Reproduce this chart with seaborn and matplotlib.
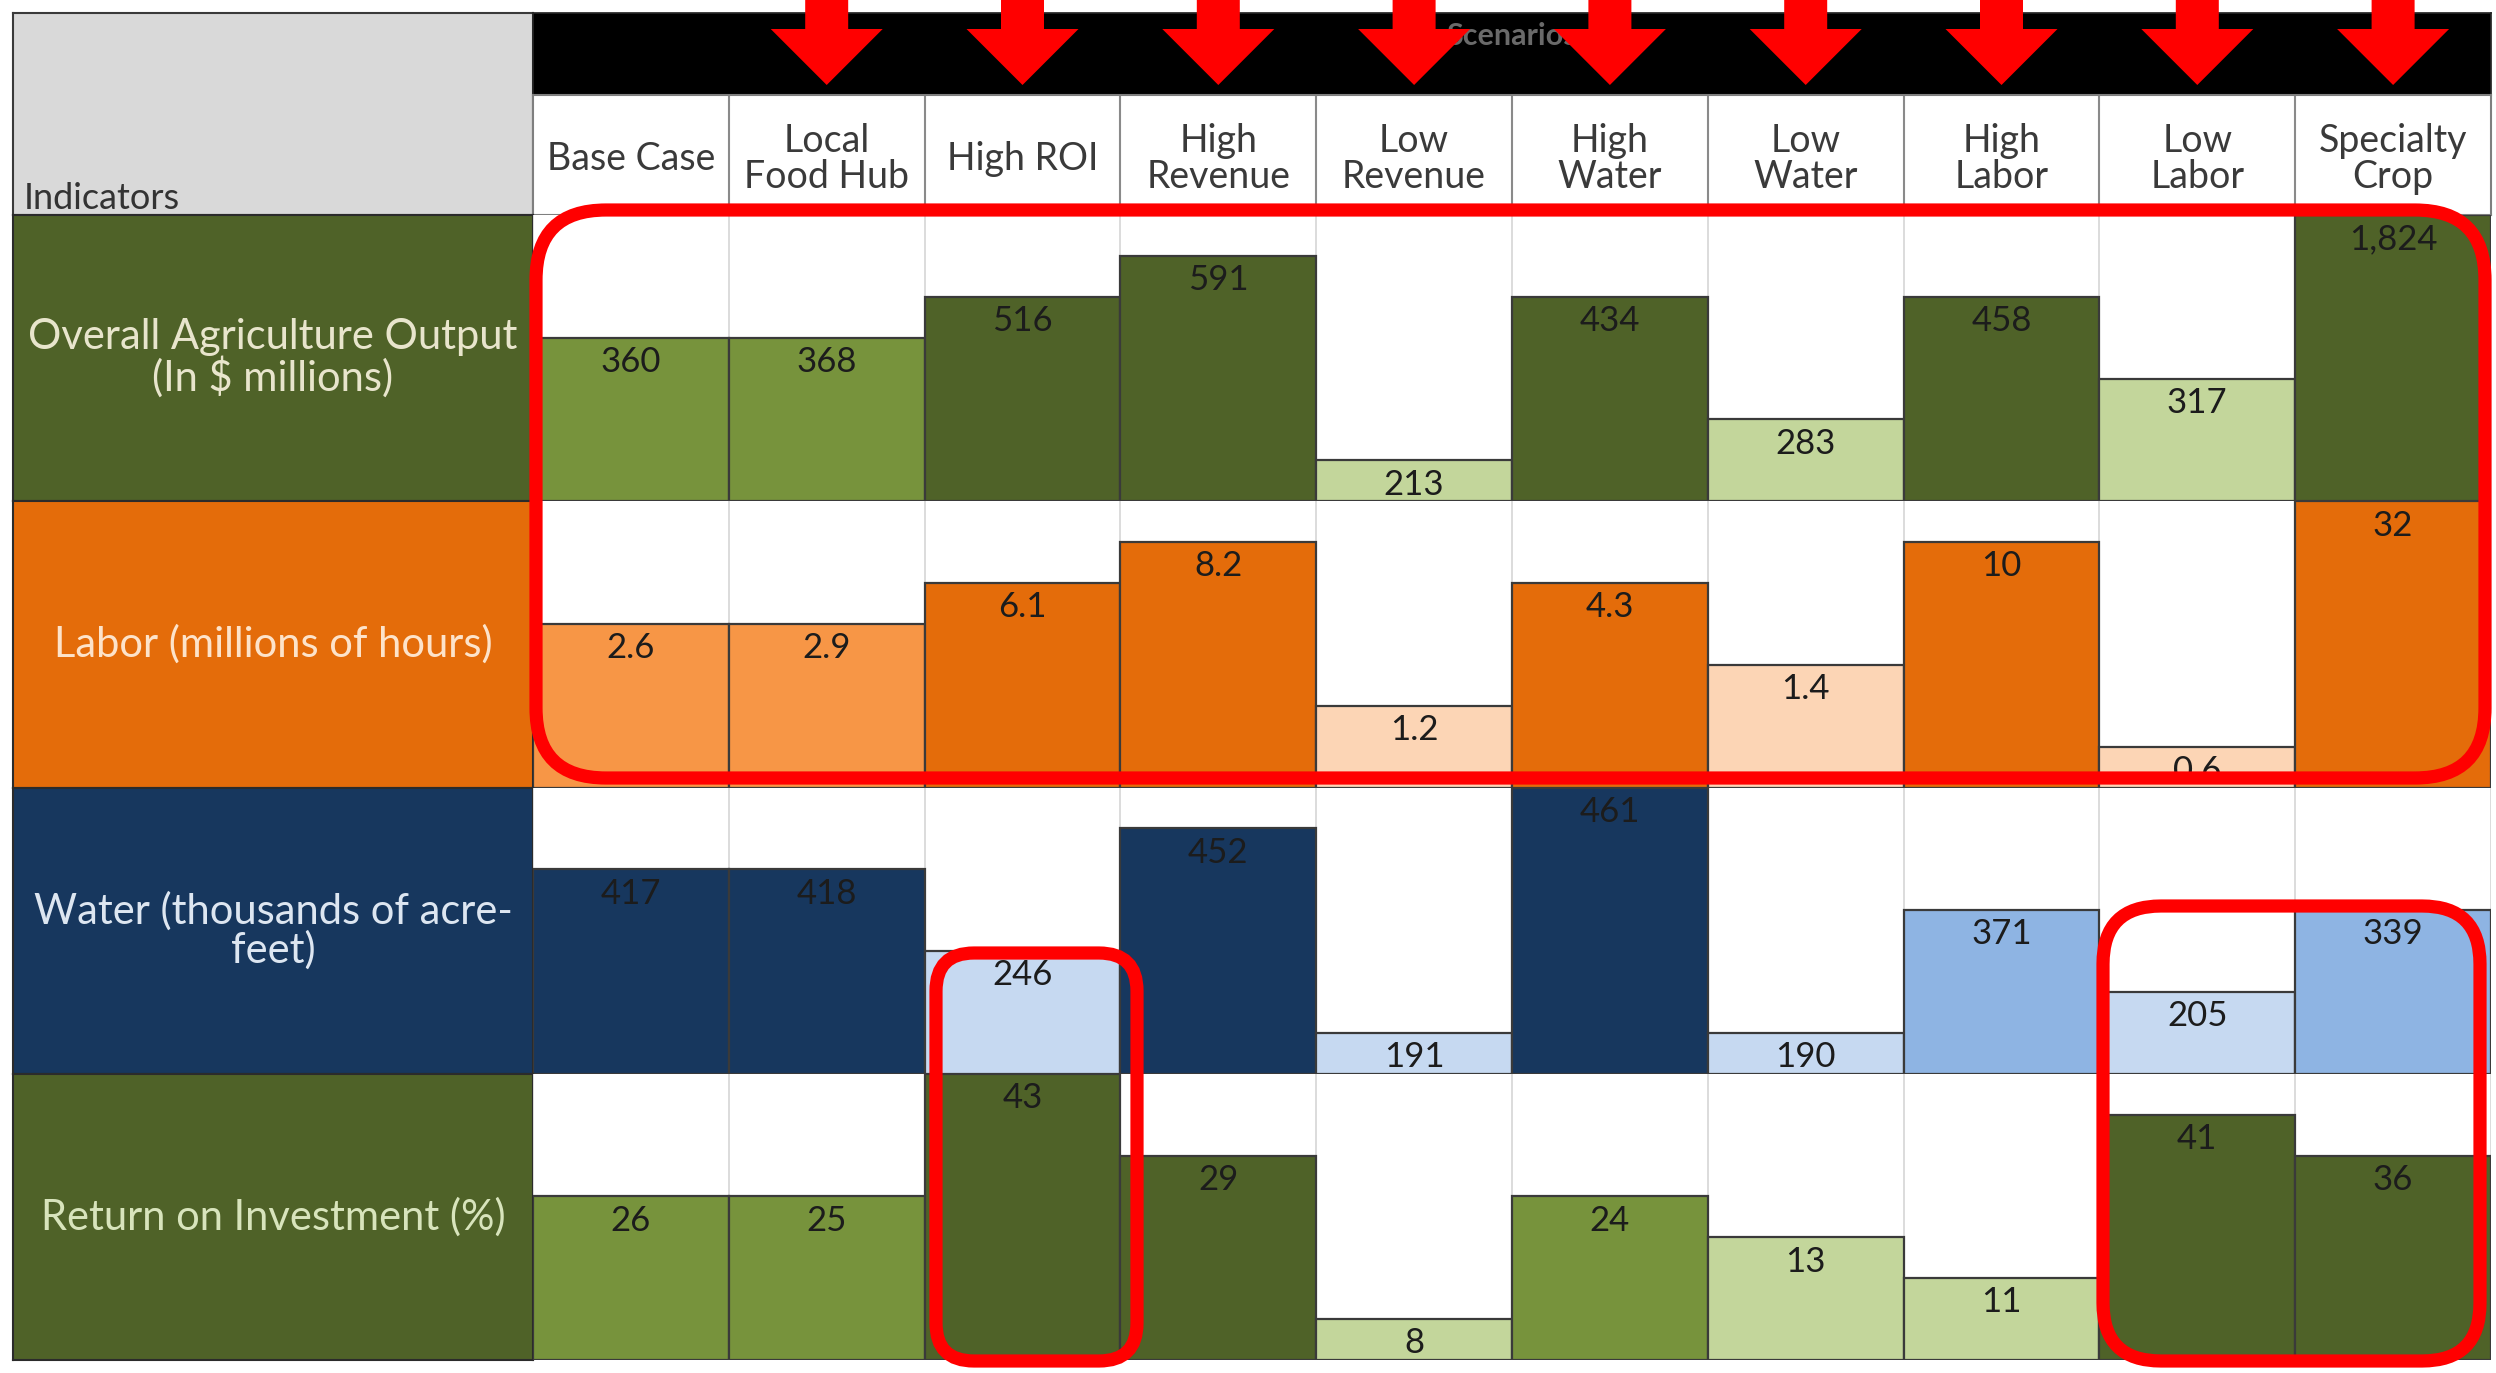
import numpy as np
import pandas as pd
import matplotlib.pyplot as plt
import seaborn as sns
from matplotlib.patches import FancyBboxPatch, FancyArrow

# scenario columns and indicator rows
scenarios = ["Base Case", "Local\nFood Hub", "High ROI", "High\nRevenue", "Low\nRevenue",
             "High\nWater", "Low\nWater", "High\nLabor", "Low\nLabor", "Specialty\nCrop"]
indicators = [r"Overall Agriculture Output" + "\n" + r"(In \$ millions)",
              "Labor (millions of hours)",
              "Water (thousands of acre-\nfeet)",
              "Return on Investment (%)"]

# printed values, bar level (rank step 1-7) and shade (d=dark, m=mid, l=light)
output_labels = ["360", "368", "516", "591", "213", "434", "283", "458", "317", "1,824"]
output_levels = [4, 4, 5, 6, 1, 5, 2, 5, 3, 7]
output_shade = ["m", "m", "d", "d", "l", "d", "l", "d", "l", "d"]

labor_labels = ["2.6", "2.9", "6.1", "8.2", "1.2", "4.3", "1.4", "10", "0.6", "32"]
labor_levels = [4, 4, 5, 6, 2, 5, 3, 6, 1, 7]
labor_shade = ["m", "m", "d", "d", "l", "d", "l", "d", "l", "d"]

water_labels = ["417", "418", "246", "452", "191", "461", "190", "371", "205", "339"]
water_levels = [5, 5, 3, 6, 1, 7, 1, 4, 2, 4]
water_shade = ["d", "d", "l", "d", "l", "d", "l", "m", "l", "m"]

roi_labels = ["26", "25", "43", "29", "8", "24", "13", "11", "41", "36"]
roi_levels = [4, 4, 7, 5, 1, 4, 3, 2, 6, 5]
roi_shade = ["m", "m", "d", "d", "l", "m", "l", "l", "d", "d"]

highlighted = [1, 2, 3, 4, 5, 6, 7, 8, 9]  # columns with red arrows

greens = {"d": "#4F6228", "m": "#77933C", "l": "#C3D69B"}
oranges = {"d": "#E46C0A", "m": "#F79646", "l": "#FCD5B5"}
blues = {"d": "#17375E", "m": "#8EB4E3", "l": "#C6D9F1"}

W, H = 2496, 1373
sns.set_theme(style="white")
plt.rcParams["font.family"] = ["Lato", "DejaVu Sans"]

fig = plt.figure(figsize=(W / 100, H / 100), dpi=100)


def px_axes(x0, y0, x1, y1, **kw):
    return fig.add_axes([x0 / W, 1 - y1 / H, (x1 - x0) / W, (y1 - y0) / H], **kw)


left_x0, grid_x0, grid_x1 = 13, 533, 2491
band_y0, head_y0, grid_y0, grid_y1 = 13, 95, 215, 1360
row_h = (grid_y1 - grid_y0) / 4
col_w = (grid_x1 - grid_x0) / len(scenarios)

# header: gray indicators box
gax = px_axes(left_x0, band_y0, grid_x0, grid_y0)
gax.set_facecolor("#D9D9D9")
gax.set_xticks([]); gax.set_yticks([])
for s in gax.spines.values():
    s.set_color("#3a3a3a"); s.set_linewidth(1.5)
gax.text(0.02, 0.0, "Indicators", ha="left", va="bottom", fontsize=26, color="#333333",
         transform=gax.transAxes)

# black scenarios band
bax = px_axes(grid_x0, band_y0, grid_x1, head_y0)
bax.set_facecolor("black")
bax.set_xticks([]); bax.set_yticks([])
bax.text(0.5, 0.72, "Scenarios", ha="center", va="center", fontsize=22, fontweight="bold",
         color="#6a6a6a", transform=bax.transAxes)

# scenario names row
hax = px_axes(grid_x0, head_y0, grid_x1, grid_y0)
hax.set_xlim(-0.5, len(scenarios) - 0.5); hax.set_ylim(0, 1)
hax.set_xticks([]); hax.set_yticks([])
for s in hax.spines.values():
    s.set_color("#7f7f7f"); s.set_linewidth(1.5)
hax.vlines(np.arange(0.5, len(scenarios) - 0.5), 0, 1, color="#8a8a8a", lw=1.5)
for i, name in enumerate(scenarios):
    hax.text(i, 0.47, name, ha="center", va="center", fontsize=27, color="#3a3a3a", linespacing=1.0)

rows = [
    (indicators[0], output_labels, output_levels, output_shade, greens, "#4F6228", "#E8E5CC"),
    (indicators[1], labor_labels, labor_levels, labor_shade, oranges, "#E46C0A", "#FDE3CA"),
    (indicators[2], water_labels, water_levels, water_shade, blues, "#17375E", "#DDE6F1"),
    (indicators[3], roi_labels, roi_levels, roi_shade, greens, "#4F6228", "#D8E4BC"),
]

for r, (name, labels, levels, shade, pal, bg, fg) in enumerate(rows):
    y0 = grid_y0 + r * row_h
    y1 = y0 + row_h

    lax = px_axes(left_x0, y0, grid_x0, y1)
    lax.set_facecolor(bg)
    lax.set_xticks([]); lax.set_yticks([])
    for s in lax.spines.values():
        s.set_color("#2b2b2b"); s.set_linewidth(1.5)
    lax.text(0.5, 0.5, name, ha="center", va="center", color=fg, fontsize=30,
             linespacing=1.0, transform=lax.transAxes)

    ax = px_axes(grid_x0, y0, grid_x1, y1)
    df = pd.DataFrame({"scenario": scenarios, "level": levels})
    sns.barplot(data=df, x="scenario", y="level", hue="scenario",
                palette=[pal[c] for c in shade], legend=False, dodge=False,
                width=1, saturation=1, edgecolor="#3a3a3a", linewidth=1.6, ax=ax)
    ax.set_xlim(-0.5, len(scenarios) - 0.5)
    ax.set_ylim(0, 7)
    ax.set_xlabel(""); ax.set_ylabel("")
    ax.set_xticks(np.arange(-0.5, len(scenarios), 1))
    ax.set_xticklabels([]); ax.set_yticks([])
    ax.tick_params(length=0)
    ax.grid(axis="x", color="#D9D9D9", lw=1.3)
    ax.set_axisbelow(True)
    for s in ax.spines.values():
        s.set_visible(False)
    for cont, lab in zip(ax.containers, labels):
        ax.bar_label(cont, labels=[lab], padding=-29, fontsize=25, color="#1c1c1c")

# overlay: red arrows and highlight frames
ov = fig.add_axes([0, 0, 1, 1], zorder=10)
ov.set_xlim(0, W); ov.set_ylim(H, 0)
ov.axis("off")
ov.patch.set_alpha(0)

for i in highlighted:
    cx = grid_x0 + (i + 0.5) * col_w
    ov.add_patch(FancyArrow(cx, 0, 0, 85, width=43, head_width=112, head_length=56,
                            length_includes_head=True, color="#FF0000", lw=0))

frames = [
    (536, 210, 2485, 778, 70),
    (936, 953, 1137, 1361, 38),
    (2103, 906, 2480, 1361, 58),
]
for x0, y0, x1, y1, rad in frames:
    ov.add_patch(FancyBboxPatch((x0, y0), x1 - x0, y1 - y0,
                                boxstyle=f"round,pad=0,rounding_size={rad}",
                                fill=False, ec="#FF0000", lw=9.5))

fig.savefig("out.png", dpi=100)
